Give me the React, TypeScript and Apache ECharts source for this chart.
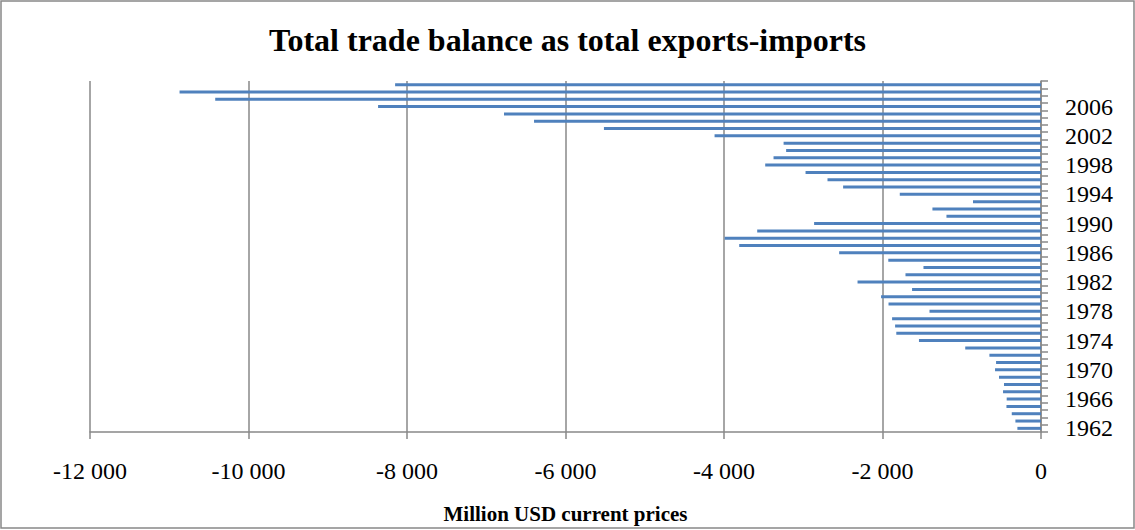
import React, { useEffect, useRef } from "react";
import * as echarts from "echarts";

const titleText = "Total trade balance as total exports-imports";
const axisName = "Million USD current prices";

const years: string[] = [
  "1962", "1963", "1964", "1965", "1966", "1967", "1968", "1969", "1970", "1971",
  "1972", "1973", "1974", "1975", "1976", "1977", "1978", "1979", "1980", "1981",
  "1982", "1983", "1984", "1985", "1986", "1987", "1988", "1989", "1990", "1991",
  "1992", "1993", "1994", "1995", "1996", "1997", "1998", "1999", "2000", "2001",
  "2002", "2003", "2004", "2005", "2006", "2007", "2008", "2009",
];

const balance: number[] = [
  -298, -323, -369, -436, -433, -479, -467, -530, -580, -567,
  -651, -956, -1540, -1826, -1841, -1879, -1407, -1924, -2018, -1627,
  -2315, -1710, -1483, -1927, -2547, -3808, -3992, -3581, -2863, -1193,
  -1370, -858, -1782, -2497, -2694, -2971, -3480, -3375, -3216, -3248,
  -4119, -5515, -6397, -6776, -8365, -10420, -10870, -8150,
];

const xMin = -12000;
const xMax = 0;
const xStep = 2000;

const FONT = "'Liberation Serif', 'Times New Roman', serif";
const GRAY = "#888888";

function fmt(v: number): string {
  const a = Math.abs(v);
  const s = String(a).replace(/\B(?=(\d{3})+(?!\d))/g, " ");
  return v < 0 ? "-" + s : s;
}

export default function App() {
  const ref = useRef<HTMLDivElement>(null);

  useEffect(() => {
    document.body.style.margin = "0";
    if (!ref.current) return;
    const chart = echarts.init(ref.current, null, { renderer: "svg" });
    chart.setOption({
      animation: false,
      backgroundColor: "#ffffff",
      title: {
        text: titleText,
        left: "center",
        top: 19,
        textStyle: {
          fontFamily: FONT,
          fontSize: 32,
          fontWeight: "bold",
          color: "#000",
        },
      },
      graphic: [
        {
          type: "rect",
          shape: { x: 1, y: 1, width: 1133, height: 527 },
          style: { fill: "none", stroke: GRAY, lineWidth: 1.5 },
          silent: true,
        },
      ],
      grid: { left: 90, right: 94, top: 81, bottom: 98, containLabel: false },
      xAxis: {
        type: "value",
        min: xMin,
        max: xMax,
        interval: xStep,
        position: "bottom",
        name: axisName,
        nameLocation: "middle",
        nameGap: 71,
        nameTextStyle: {
          fontFamily: FONT,
          fontSize: 21,
          fontWeight: "bold",
          color: "#000",
        },
        axisLine: { show: true, lineStyle: { color: GRAY, width: 1.5 } },
        axisTick: { show: true, length: 7, lineStyle: { color: GRAY, width: 1.5 } },
        axisLabel: {
          fontFamily: FONT,
          fontSize: 24,
          color: "#000",
          margin: 27,
          formatter: (v: number) => fmt(v),
        },
        splitLine: { show: true, lineStyle: { color: GRAY, width: 1.5 } },
      },
      yAxis: {
        type: "category",
        position: "right",
        data: years,
        axisLine: { show: true, onZero: false, lineStyle: { color: GRAY, width: 1.5 } },
        axisTick: { show: true, interval: 0, length: 7, lineStyle: { color: GRAY, width: 1.5 } },
        axisLabel: {
          interval: 3,
          fontFamily: FONT,
          fontSize: 24,
          color: "#000",
          margin: 24,
          padding: [3, 0, 0, 0],
        },
        splitLine: { show: false },
      },
      series: [
        {
          type: "bar",
          data: balance,
          barWidth: 3,
          itemStyle: { color: "#4F81BD" },
        },
      ],
    });
    return () => chart.dispose();
  }, []);

  return (
    <div
      ref={ref}
      style={{ position: "absolute", left: 0, top: 0, width: 1135, height: 530 }}
    />
  );
}
